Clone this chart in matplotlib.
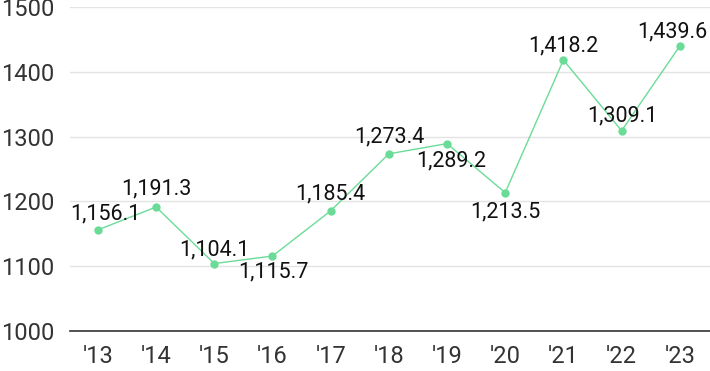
import matplotlib.pyplot as plt

years = ["'13", "'14", "'15", "'16", "'17", "'18", "'19", "'20", "'21", "'22", "'23"]
values = [1156.1, 1191.3, 1104.1, 1115.7, 1185.4, 1273.4, 1289.2, 1213.5, 1418.2, 1309.1, 1439.6]
yticks = [1000, 1100, 1200, 1300, 1400, 1500]

# label placement around each dot, in pixels (dx, dy)
label_offsets = [(7, 16), (0, 18), (0, 14), (1, -16), (0, 17), (0, 17),
                 (4, -17), (0, -19), (0, 14), (1, 15), (-7, 14)]

plt.rcParams['font.family'] = ['Roboto', 'DejaVu Sans']

fig = plt.figure(figsize=(7.1, 3.71), dpi=100)
ax = fig.add_axes([0.0986, 0.1078, 0.9014, 0.8733])

green = '#6bdc97'
x = list(range(len(years)))
ax.plot(x, values, color=green, lw=1, zorder=3)
ax.scatter(x, values, s=36, color=green, zorder=4, linewidths=0)

for xi, v, (dx, dy) in zip(x, values, label_offsets):
    ax.annotate('{:,.1f}'.format(v), (xi, v), xytext=(dx, dy), textcoords='offset pixels',
                ha='center', va='center', fontsize=15.5, color='#111111', zorder=5)

ax.set_xlim(-0.48, 10.52)
ax.set_ylim(1000, 1500)
ax.set_yticks(yticks)
ax.set_xticks(x)
ax.set_xticklabels(years)
ax.grid(True, axis='y', color='#e3e3e3', lw=1)
ax.set_axisbelow(True)
for s in ['top', 'right', 'left']:
    ax.spines[s].set_visible(False)
ax.spines['bottom'].set_color('#333333')
ax.spines['bottom'].set_linewidth(1.2)
ax.tick_params(axis='both', length=0, labelsize=17, colors='#333333')
ax.tick_params(axis='y', pad=11)
ax.tick_params(axis='x', pad=10)

fig.savefig('out.png', dpi=100)
